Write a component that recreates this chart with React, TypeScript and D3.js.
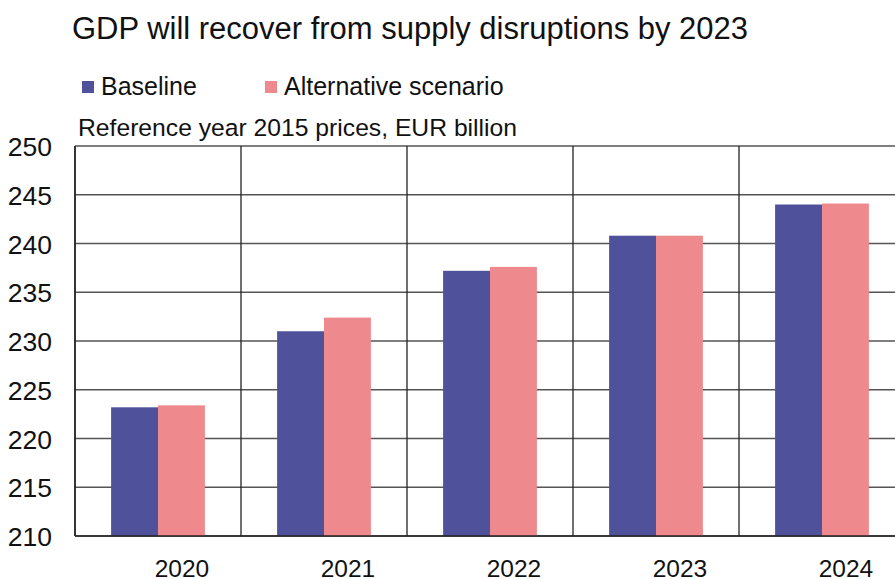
import React from "react";
import * as d3 from "d3";

const categories = ["2020", "2021", "2022", "2023", "2024"];
const baseline = [223.2, 231.0, 237.2, 240.8, 244.0];
const alternative = [223.4, 232.4, 237.6, 240.8, 244.1];
const yTicks = [210, 215, 220, 225, 230, 235, 240, 245, 250];
const seriesNames = ["Baseline", "Alternative scenario"];
const colors = ["#4f529b", "#ee898d"];

export default function App() {
  const W = 895, H = 579;
  const left = 75, right = 905, top = 146, bottom = 536;
  const x = d3.scaleBand().domain(categories).range([left, right]).paddingInner(0).paddingOuter(0);
  const inner = d3.scaleBand().domain(["0", "1"]).range([0, x.bandwidth()]).paddingInner(0).paddingOuter(0.77);
  const y = d3.scaleLinear().domain([210, 250]).range([bottom, top]);
  const series = [baseline, alternative];
  const font = "'Liberation Sans', Arial, sans-serif";
  return (
    <svg width={W} height={H} style={{ position: "absolute", left: 0, top: 0, background: "#fff" }} fontFamily={font}>
      <text x={72} y={39} fontSize={31} fill="#111" textLength={676} lengthAdjust="spacingAndGlyphs">GDP will recover from supply disruptions by 2023</text>
      {seriesNames.map((s, i) => (
        <g key={s} transform={`translate(${i === 0 ? 82 : 265},0)`}>
          <rect x={0} y={81} width={12} height={12} fill={colors[i]} />
          <text x={19} y={95} fontSize={25} fill="#111">{s}</text>
        </g>
      ))}
      <text x={78} y={136} fontSize={24.5} fill="#111" textLength={439} lengthAdjust="spacingAndGlyphs">Reference year 2015 prices, EUR billion</text>
      {yTicks.map((t) => (
        <g key={t}>
          <line x1={left} x2={right} y1={y(t)} y2={y(t)} stroke="#555" strokeWidth={1.3} />
          <text x={52} y={y(t) + 10} fontSize={26.5} textAnchor="end" fill="#111">{t}</text>
        </g>
      ))}
      {categories.map((c) => (
        <line key={c} x1={x(c)!} x2={x(c)!} y1={top} y2={bottom} stroke="#222" strokeWidth={1.3} />
      ))}
      {categories.map((c, ci) =>
        series.map((vals, si) => (
          <rect
            key={c + si}
            x={x(c)! + inner(String(si))!}
            y={y(vals[ci])}
            width={inner.bandwidth()}
            height={y(210) - y(vals[ci])}
            fill={colors[si]}
          />
        ))
      )}
      <line x1={left} x2={right} y1={bottom} y2={bottom} stroke="#222" strokeWidth={1.5} />
      <line x1={left} x2={left} y1={top} y2={bottom} stroke="#222" strokeWidth={1.5} />
      {categories.map((c) => (
        <text key={c} x={x(c)! + x.bandwidth() / 2 + 24} y={577} fontSize={24.5} textAnchor="middle" fill="#111">{c}</text>
      ))}
    </svg>
  );
}
